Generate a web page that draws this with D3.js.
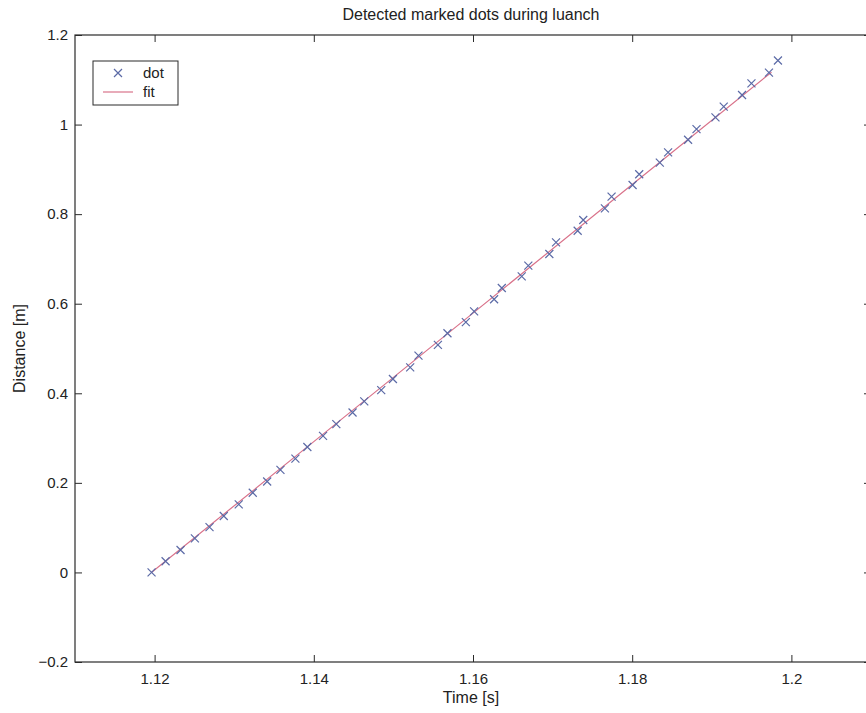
<!DOCTYPE html>
<html>
<head>
<meta charset="utf-8">
<script src="https://cdn.jsdelivr.net/npm/d3@7"></script>
<style>
  body { margin: 0; background: #fff; }
  text { font-family: "Liberation Sans", Arial, Helvetica, sans-serif; fill: #222; }
</style>
</head>
<body>
<svg id="canvas" width="866" height="713"></svg>
<script>
// detected dot positions
var dotTime = [1.11962, 1.12138, 1.12326, 1.12506, 1.12690, 1.12869, 1.13057, 1.13233, 1.13414, 1.13581,
               1.13769, 1.13919, 1.14116, 1.14283, 1.14487, 1.14634, 1.14847, 1.14994, 1.15211, 1.15315,
               1.15559, 1.15679, 1.15910, 1.16014, 1.16265, 1.16362, 1.16612, 1.16695, 1.16959, 1.17043,
               1.17315, 1.17385, 1.17657, 1.17741, 1.18005, 1.18088, 1.18347, 1.18451, 1.18702, 1.18808,
               1.19046, 1.19150, 1.19380, 1.19498, 1.19718, 1.19831]
var dotDist = [0.000, 0.025, 0.050, 0.076, 0.101, 0.126, 0.152, 0.178, 0.203, 0.229,
               0.254, 0.280, 0.305, 0.331, 0.357, 0.382, 0.407, 0.432, 0.458, 0.484,
               0.508, 0.534, 0.559, 0.583, 0.610, 0.635, 0.661, 0.685, 0.711, 0.737,
               0.763, 0.787, 0.813, 0.839, 0.865, 0.889, 0.915, 0.938, 0.966, 0.990,
               1.016, 1.040, 1.066, 1.092, 1.116, 1.143]

// fitted line
var fitTime = [1.1196, 1.14, 1.16, 1.18, 1.1975]
var fitDist = [0.000, 0.292, 0.579, 0.866, 1.117]

var xTicks = [1.12, 1.14, 1.16, 1.18, 1.2]
var xTickLabels = ['1.12', '1.14', '1.16', '1.18', '1.2']
var yTicks = [-0.2, 0, 0.2, 0.4, 0.6, 0.8, 1, 1.2]
var yTickLabels = ['\u22120.2', '0', '0.2', '0.4', '0.6', '0.8', '1', '1.2']

var box = {left: 75, right: 871, top: 35, bottom: 662}
var dotColor = '#5b6aa6'
var fitColor = '#d9728a'

window.onload = function()
{
    MakeChart();
}

function MakeChart(){
    let svg = d3.select('#canvas')

    let x = d3.scaleLinear().domain([1.11, 1.21]).range([box.left, box.right])
    let y = d3.scaleLinear().domain([-0.2, 1.2]).range([box.bottom, box.top])

    // frame
    svg.append('rect')
        .attr('x', box.left).attr('y', box.top)
        .attr('width', box.right - box.left).attr('height', box.bottom - box.top)
        .style('fill', 'none').style('stroke', '#2a2a2a').style('stroke-width', 1.2)

    // axes, ticks pointing inward like matlab
    let bottom = svg.append('g').attr('transform', 'translate(0,' + box.bottom + ')')
        .call(d3.axisBottom(x).tickValues(xTicks).tickSize(-7).tickPadding(11)
              .tickFormat((d, i) => xTickLabels[i]))
    let top = svg.append('g').attr('transform', 'translate(0,' + box.top + ')')
        .call(d3.axisTop(x).tickValues(xTicks).tickSize(-7).tickFormat(''))
    let left = svg.append('g').attr('transform', 'translate(' + box.left + ',0)')
        .call(d3.axisLeft(y).tickValues(yTicks).tickSize(-7).tickPadding(7)
              .tickFormat((d, i) => yTickLabels[i]))
    let right = svg.append('g').attr('transform', 'translate(' + box.right + ',0)')
        .call(d3.axisRight(y).tickValues(yTicks).tickSize(-7).tickFormat(''))

    for (let g of [bottom, top, left, right]) {
        g.select('.domain').remove()
        g.selectAll('.tick line').style('stroke', '#2a2a2a')
        g.selectAll('.tick text').style('font-size', '15px').style('fill', '#222')
            .style('font-family', '"Liberation Sans", Arial, sans-serif')
    }

    // fit line
    let line = d3.line().x(d => x(d[0])).y(d => y(d[1]))
    svg.append('path')
        .datum(fitTime.map((t, i) => [t, fitDist[i]]))
        .attr('d', line)
        .style('fill', 'none').style('stroke', fitColor).style('stroke-width', 1.2)

    // dots as x markers
    let r = 4
    svg.selectAll('path.dot')
        .data(dotTime.map((t, i) => [t, dotDist[i]]))
        .join('path')
        .attr('class', 'dot')
        .attr('d', d => {
            let cx = x(d[0]), cy = y(d[1])
            return 'M' + (cx - r) + ',' + (cy - r) + 'L' + (cx + r) + ',' + (cy + r) +
                   'M' + (cx - r) + ',' + (cy + r) + 'L' + (cx + r) + ',' + (cy - r)
        })
        .style('fill', 'none').style('stroke', dotColor).style('stroke-width', 1.2)

    // title and labels
    svg.append('text').attr('x', (box.left + box.right) / 2 - 2).attr('y', 20)
        .attr('text-anchor', 'middle').style('font-size', '16px')
        .text('Detected marked dots during luanch')
    svg.append('text').attr('x', (box.left + box.right) / 2 - 2).attr('y', 703)
        .attr('text-anchor', 'middle').style('font-size', '16px')
        .text('Time [s]')
    svg.append('text').attr('transform', 'translate(25,' + ((box.top + box.bottom) / 2) + ') rotate(-90)')
        .attr('text-anchor', 'middle').style('font-size', '16px')
        .text('Distance [m]')

    MakeLegend(svg)
}

function MakeLegend(svg){
    let lg = svg.append('g').attr('transform', 'translate(93,61)')
    lg.append('rect').attr('width', 85).attr('height', 44)
        .style('fill', '#fff').style('stroke', '#2a2a2a').style('stroke-width', 1)
    let r = 4, cx = 25, cy = 12
    lg.append('path')
        .attr('d', 'M' + (cx - r) + ',' + (cy - r) + 'L' + (cx + r) + ',' + (cy + r) +
                   'M' + (cx - r) + ',' + (cy + r) + 'L' + (cx + r) + ',' + (cy - r))
        .style('fill', 'none').style('stroke', dotColor).style('stroke-width', 1.2)
    lg.append('line').attr('x1', 10).attr('x2', 40).attr('y1', 31).attr('y2', 31)
        .style('stroke', fitColor).style('stroke-width', 1.2)
    lg.append('text').attr('x', 50).attr('y', 17).style('font-size', '15px').text('dot')
    lg.append('text').attr('x', 50).attr('y', 36).style('font-size', '15px').text('fit')
}
</script>
</body>
</html>
